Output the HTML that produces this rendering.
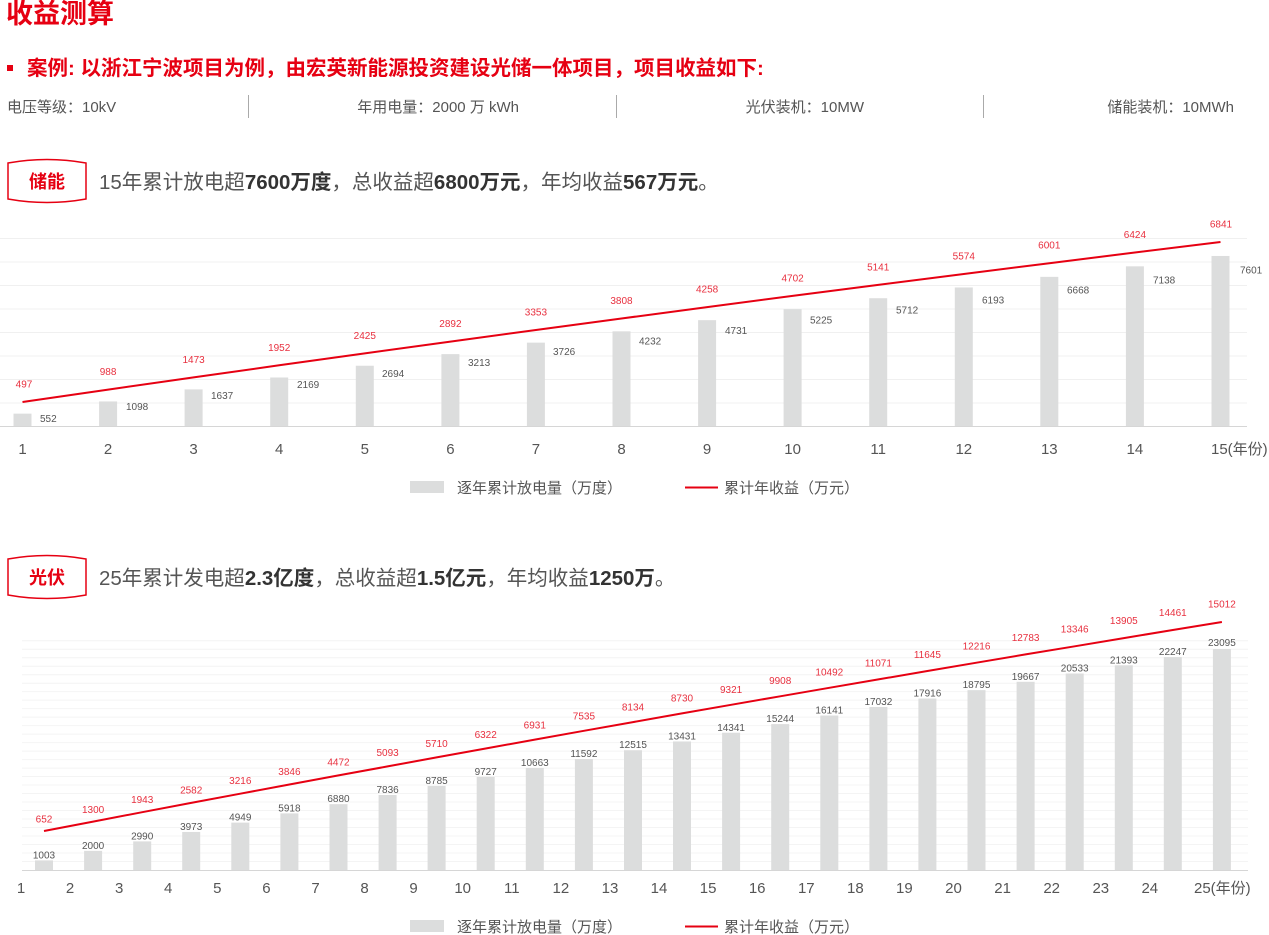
<!DOCTYPE html>
<html><head><meta charset="utf-8"><style>
body{margin:0;background:#fff;}
svg{display:block;font-family:"Liberation Sans","Noto Sans CJK SC",sans-serif;}
.t{font-size:10px;fill:#555}
.r{font-size:10px;fill:#e8303f}
.k{font-size:15px;fill:#555}
</style></head><body>
<svg width="1269" height="935" viewBox="0 0 1269 935" xmlns="http://www.w3.org/2000/svg">
<text x="6" y="23" font-size="27" font-weight="bold" fill="#e60012">收益测算</text>
<rect x="7" y="65" width="6" height="6" fill="#e60012"/>
<text x="27" y="75" font-size="20.5" font-weight="bold" fill="#e60012">案例: 以浙江宁波项目为例，由宏英新能源投资建设光储一体项目，项目收益如下:</text>
<g font-size="15" fill="#555">
<text x="7" y="112">电压等级：10kV</text>
<text x="519" y="112" text-anchor="end">年用电量：2000 万 kWh</text>
<text x="864" y="112" text-anchor="end">光伏装机：10MW</text>
<text x="1234" y="112" text-anchor="end">储能装机：10MWh</text>
</g>
<g stroke="#aaa" stroke-width="1"><line x1="248.5" y1="95" x2="248.5" y2="118"/><line x1="616.5" y1="95" x2="616.5" y2="118"/><line x1="983.5" y1="95" x2="983.5" y2="118"/></g>

<path d="M8,163 Q47,156 86,163 L86,199 Q47,206 8,199 Z" fill="none" stroke="#e60012" stroke-width="1.5"/>
<text x="47" y="188" text-anchor="middle" font-size="18" font-weight="bold" fill="#e60012">储能</text>
<text x="99" y="189" font-size="20.5" fill="#555">15年累计放电超<tspan font-weight="bold" fill="#333">7600万度</tspan>，总收益超<tspan font-weight="bold" fill="#333">6800万元</tspan>，年均收益<tspan font-weight="bold" fill="#333">567万元</tspan>。</text>

<g stroke="#f0f0f0" stroke-width="1">
<line x1="0" y1="238.5" x2="1247" y2="238.5"/><line x1="0" y1="262" x2="1247" y2="262"/><line x1="0" y1="285.5" x2="1247" y2="285.5"/><line x1="0" y1="309" x2="1247" y2="309"/><line x1="0" y1="332.5" x2="1247" y2="332.5"/><line x1="0" y1="356" x2="1247" y2="356"/><line x1="0" y1="379.5" x2="1247" y2="379.5"/><line x1="0" y1="403" x2="1247" y2="403"/>
</g>
<line x1="0" y1="426.5" x2="1247" y2="426.5" stroke="#d6d6d6"/>
<g transform="translate(0,426) scale(1,-0.02237)" fill="#dcdddd">
<rect x="13.5" y="0" width="18" height="552"/><rect x="99.1" y="0" width="18" height="1098"/><rect x="184.6" y="0" width="18" height="1637"/><rect x="270.2" y="0" width="18" height="2169"/><rect x="355.8" y="0" width="18" height="2694"/><rect x="441.4" y="0" width="18" height="3213"/><rect x="526.9" y="0" width="18" height="3726"/><rect x="612.5" y="0" width="18" height="4232"/><rect x="698.1" y="0" width="18" height="4731"/><rect x="783.6" y="0" width="18" height="5225"/><rect x="869.2" y="0" width="18" height="5712"/><rect x="954.8" y="0" width="18" height="6193"/><rect x="1040.3" y="0" width="18" height="6668"/><rect x="1125.9" y="0" width="18" height="7138"/><rect x="1211.5" y="0" width="18" height="7601"/>
</g>
<g class="t">
<text x="40" y="422" class="t">552</text><text x="126" y="410" class="t">1098</text><text x="211" y="399" class="t">1637</text><text x="297" y="388" class="t">2169</text><text x="382" y="377" class="t">2694</text><text x="468" y="366" class="t">3213</text><text x="553" y="355" class="t">3726</text><text x="639" y="344.5" class="t">4232</text><text x="725" y="334" class="t">4731</text><text x="810" y="323.6" class="t">5225</text><text x="896" y="313.4" class="t">5712</text><text x="982" y="303.3" class="t">6193</text><text x="1067" y="293.3" class="t">6668</text><text x="1153" y="283.4" class="t">7138</text><text x="1240" y="273.7" class="t">7601</text>
</g>
<polyline fill="none" stroke="#e60012" stroke-width="2" points="22.5,402 108.1,389.6 193.6,377.4 279.2,365.3 364.8,353.4 450.4,341.6 535.9,330 621.5,318.5 707.1,307.1 792.6,295.9 878.2,284.9 963.8,274 1049.3,263.2 1134.9,252.5 1220.5,242"/>
<g text-anchor="middle">
<text x="24" y="387.5" class="r">497</text><text x="108.1" y="375.1" class="r">988</text><text x="193.6" y="362.9" class="r">1473</text><text x="279.2" y="350.8" class="r">1952</text><text x="364.8" y="338.9" class="r">2425</text><text x="450.4" y="327.1" class="r">2892</text><text x="535.9" y="315.5" class="r">3353</text><text x="621.5" y="304" class="r">3808</text><text x="707.1" y="292.6" class="r">4258</text><text x="792.6" y="281.4" class="r">4702</text><text x="878.2" y="270.4" class="r">5141</text><text x="963.8" y="259.5" class="r">5574</text><text x="1049.3" y="248.7" class="r">6001</text><text x="1134.9" y="238" class="r">6424</text><text x="1221" y="227.5" class="r">6841</text>
</g>
<g text-anchor="middle" class="k">
<text x="22.5" y="454" class="k">1</text><text x="108.1" y="454" class="k">2</text><text x="193.6" y="454" class="k">3</text><text x="279.2" y="454" class="k">4</text><text x="364.8" y="454" class="k">5</text><text x="450.4" y="454" class="k">6</text><text x="535.9" y="454" class="k">7</text><text x="621.5" y="454" class="k">8</text><text x="707.1" y="454" class="k">9</text><text x="792.6" y="454" class="k">10</text><text x="878.2" y="454" class="k">11</text><text x="963.8" y="454" class="k">12</text><text x="1049.3" y="454" class="k">13</text><text x="1134.9" y="454" class="k">14</text>
</g>
<text x="1211" y="454" class="k">15(年份)</text>
<rect x="410" y="481" width="34" height="12" fill="#dcdddd"/>
<text x="457" y="493" class="k">逐年累计放电量（万度）</text>
<line x1="685" y1="487.5" x2="718" y2="487.5" stroke="#e60012" stroke-width="2"/>
<text x="724" y="493" class="k">累计年收益（万元）</text>

<path d="M8,559 Q47,552 86,559 L86,595 Q47,602 8,595 Z" fill="none" stroke="#e60012" stroke-width="1.5"/>
<text x="47" y="584" text-anchor="middle" font-size="18" font-weight="bold" fill="#e60012">光伏</text>
<text x="99" y="585" font-size="20.5" fill="#555">25年累计发电超<tspan font-weight="bold" fill="#333">2.3亿度</tspan>，总收益超<tspan font-weight="bold" fill="#333">1.5亿元</tspan>，年均收益<tspan font-weight="bold" fill="#333">1250万</tspan>。</text>

<g stroke="#f4f4f4" stroke-width="1">
<line x1="22" y1="640.7" x2="1248" y2="640.7"/><line x1="22" y1="649.2" x2="1248" y2="649.2"/><line x1="22" y1="657.7" x2="1248" y2="657.7"/><line x1="22" y1="666.2" x2="1248" y2="666.2"/><line x1="22" y1="674.7" x2="1248" y2="674.7"/><line x1="22" y1="683.2" x2="1248" y2="683.2"/><line x1="22" y1="691.6" x2="1248" y2="691.6"/><line x1="22" y1="700.1" x2="1248" y2="700.1"/><line x1="22" y1="708.6" x2="1248" y2="708.6"/><line x1="22" y1="717.1" x2="1248" y2="717.1"/><line x1="22" y1="725.6" x2="1248" y2="725.6"/><line x1="22" y1="734.1" x2="1248" y2="734.1"/><line x1="22" y1="742.6" x2="1248" y2="742.6"/><line x1="22" y1="751.1" x2="1248" y2="751.1"/><line x1="22" y1="759.6" x2="1248" y2="759.6"/><line x1="22" y1="768.1" x2="1248" y2="768.1"/><line x1="22" y1="776.5" x2="1248" y2="776.5"/><line x1="22" y1="785" x2="1248" y2="785"/><line x1="22" y1="793.5" x2="1248" y2="793.5"/><line x1="22" y1="802" x2="1248" y2="802"/><line x1="22" y1="810.5" x2="1248" y2="810.5"/><line x1="22" y1="819" x2="1248" y2="819"/><line x1="22" y1="827.5" x2="1248" y2="827.5"/><line x1="22" y1="836" x2="1248" y2="836"/><line x1="22" y1="844.5" x2="1248" y2="844.5"/><line x1="22" y1="853" x2="1248" y2="853"/><line x1="22" y1="861.5" x2="1248" y2="861.5"/>
</g>
<line x1="22" y1="870.5" x2="1248" y2="870.5" stroke="#d6d6d6"/>
<g transform="translate(0,870) scale(1,-0.00957)" fill="#dcdddd">
<rect x="35" y="0" width="18" height="1003"/><rect x="84.1" y="0" width="18" height="2000"/><rect x="133.2" y="0" width="18" height="2990"/><rect x="182.2" y="0" width="18" height="3973"/><rect x="231.3" y="0" width="18" height="4949"/><rect x="280.4" y="0" width="18" height="5918"/><rect x="329.5" y="0" width="18" height="6880"/><rect x="378.6" y="0" width="18" height="7836"/><rect x="427.6" y="0" width="18" height="8785"/><rect x="476.7" y="0" width="18" height="9727"/><rect x="525.8" y="0" width="18" height="10663"/><rect x="574.9" y="0" width="18" height="11592"/><rect x="624" y="0" width="18" height="12515"/><rect x="673" y="0" width="18" height="13431"/><rect x="722.1" y="0" width="18" height="14341"/><rect x="771.2" y="0" width="18" height="15244"/><rect x="820.3" y="0" width="18" height="16141"/><rect x="869.4" y="0" width="18" height="17032"/><rect x="918.4" y="0" width="18" height="17916"/><rect x="967.5" y="0" width="18" height="18795"/><rect x="1016.6" y="0" width="18" height="19667"/><rect x="1065.7" y="0" width="18" height="20533"/><rect x="1114.8" y="0" width="18" height="21393"/><rect x="1163.8" y="0" width="18" height="22247"/><rect x="1212.9" y="0" width="18" height="23095"/>
</g>
<g text-anchor="middle">
<text x="44" y="858.4" class="t">1003</text><text x="93.1" y="848.9" class="t">2000</text><text x="142.2" y="839.4" class="t">2990</text><text x="191.2" y="830" class="t">3973</text><text x="240.3" y="820.6" class="t">4949</text><text x="289.4" y="811.4" class="t">5918</text><text x="338.5" y="802.2" class="t">6880</text><text x="387.6" y="793" class="t">7836</text><text x="436.6" y="783.9" class="t">8785</text><text x="485.7" y="774.9" class="t">9727</text><text x="534.8" y="766" class="t">10663</text><text x="583.9" y="757.1" class="t">11592</text><text x="633" y="748.2" class="t">12515</text><text x="682" y="739.5" class="t">13431</text><text x="731.1" y="730.8" class="t">14341</text><text x="780.2" y="722.1" class="t">15244</text><text x="829.3" y="713.5" class="t">16141</text><text x="878.4" y="705" class="t">17032</text><text x="927.4" y="696.5" class="t">17916</text><text x="976.5" y="688.1" class="t">18795</text><text x="1025.6" y="679.8" class="t">19667</text><text x="1074.7" y="671.5" class="t">20533</text><text x="1123.8" y="663.3" class="t">21393</text><text x="1172.8" y="655.1" class="t">22247</text><text x="1221.9" y="646" class="t">23095</text>
</g>
<polyline fill="none" stroke="#e60012" stroke-width="2" points="44,831 93.1,821.6 142.2,812.2 191.2,802.9 240.3,793.7 289.4,784.5 338.5,775.4 387.6,766.4 436.6,757.4 485.7,748.5 534.8,739.6 583.9,730.8 633,722.1 682,713.4 731.1,704.8 780.2,696.3 829.3,687.8 878.4,679.4 927.4,671 976.5,662.7 1025.6,654.4 1074.7,646.3 1123.8,638.1 1172.8,630 1221.9,622"/>
<g text-anchor="middle">
<text x="44" y="822.5" class="r">652</text><text x="93.1" y="812.8" class="r">1300</text><text x="142.2" y="803.2" class="r">1943</text><text x="191.2" y="793.7" class="r">2582</text><text x="240.3" y="784.2" class="r">3216</text><text x="289.4" y="774.8" class="r">3846</text><text x="338.5" y="765.4" class="r">4472</text><text x="387.6" y="756.2" class="r">5093</text><text x="436.6" y="746.9" class="r">5710</text><text x="485.7" y="737.8" class="r">6322</text><text x="534.8" y="728.6" class="r">6931</text><text x="583.9" y="719.6" class="r">7535</text><text x="633" y="710.6" class="r">8134</text><text x="682" y="701.6" class="r">8730</text><text x="731.1" y="692.8" class="r">9321</text><text x="780.2" y="684" class="r">9908</text><text x="829.3" y="675.3" class="r">10492</text><text x="878.4" y="666.6" class="r">11071</text><text x="927.4" y="658" class="r">11645</text><text x="976.5" y="649.5" class="r">12216</text><text x="1025.6" y="641" class="r">12783</text><text x="1074.7" y="632.6" class="r">13346</text><text x="1123.8" y="624.2" class="r">13905</text><text x="1172.8" y="615.9" class="r">14461</text><text x="1221.9" y="607.5" class="r">15012</text>
</g>
<g text-anchor="middle">
<text x="21" y="893" class="k">1</text><text x="70.1" y="893" class="k">2</text><text x="119.2" y="893" class="k">3</text><text x="168.2" y="893" class="k">4</text><text x="217.3" y="893" class="k">5</text><text x="266.4" y="893" class="k">6</text><text x="315.5" y="893" class="k">7</text><text x="364.6" y="893" class="k">8</text><text x="413.6" y="893" class="k">9</text><text x="462.7" y="893" class="k">10</text><text x="511.8" y="893" class="k">11</text><text x="560.9" y="893" class="k">12</text><text x="610" y="893" class="k">13</text><text x="659" y="893" class="k">14</text><text x="708.1" y="893" class="k">15</text><text x="757.2" y="893" class="k">16</text><text x="806.3" y="893" class="k">17</text><text x="855.4" y="893" class="k">18</text><text x="904.4" y="893" class="k">19</text><text x="953.5" y="893" class="k">20</text><text x="1002.6" y="893" class="k">21</text><text x="1051.7" y="893" class="k">22</text><text x="1100.8" y="893" class="k">23</text><text x="1149.8" y="893" class="k">24</text>
</g>
<text x="1194" y="893" class="k">25(年份)</text>
<rect x="410" y="920" width="34" height="12" fill="#dcdddd"/>
<text x="457" y="932" class="k">逐年累计放电量（万度）</text>
<line x1="685" y1="926.5" x2="718" y2="926.5" stroke="#e60012" stroke-width="2"/>
<text x="724" y="932" class="k">累计年收益（万元）</text>
</svg>
</body></html>
